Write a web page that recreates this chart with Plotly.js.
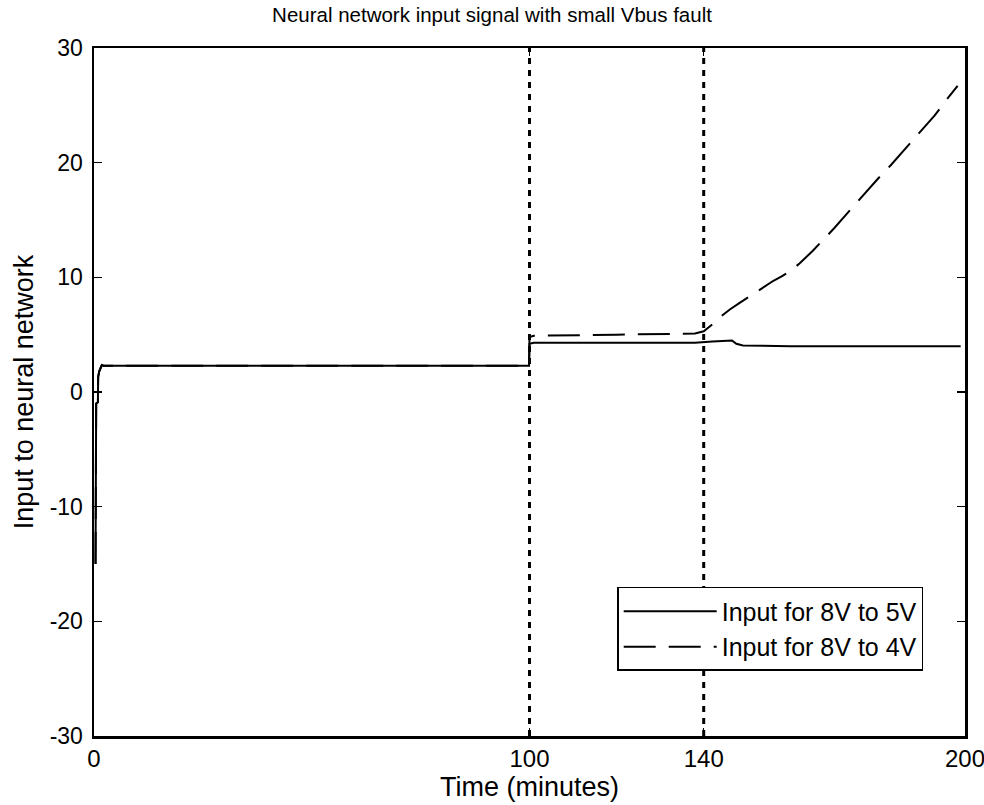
<!DOCTYPE html>
<html>
<head>
<meta charset="utf-8">
<script src="https://cdn.plot.ly/plotly-3.0.1.min.js"></script>
<style>html,body{margin:0;padding:0;background:#fff;}#chart{width:984px;height:805px;}</style>
</head>
<body>
<div id="chart"></div>
<script>
// Input for 8V to 5V (solid)
const t5 = [0.35, 0.5, 0.9, 0.95, 1.2, 1.8, 2.2, 30, 60, 99.9, 100, 101, 120, 138, 142, 145, 146.5, 147.5, 149, 160, 180, 199];
const v5 = [-15, -1.0, -0.9, 1.3, 1.8, 2.35, 2.3, 2.3, 2.28, 2.3, 4.2, 4.3, 4.3, 4.3, 4.4, 4.45, 4.5, 4.2, 4.05, 4.0, 4.0, 4.0];
// Input for 8V to 4V (dashed)
const t4 = [0.35, 0.5, 0.9, 0.95, 1.2, 1.8, 2.2, 30, 60, 99.9, 100, 101, 120, 138, 140, 142, 144, 146, 148, 150, 153, 156, 158, 160, 162, 165, 168, 170, 173, 176, 180, 183, 186, 190, 193, 196, 198.3];
const v4 = [-15, -1.0, -0.9, 1.3, 1.8, 2.35, 2.3, 2.3, 2.28, 2.3, 4.8, 4.9, 5.0, 5.1, 5.3, 5.9, 6.6, 7.2, 7.7, 8.2, 9.0, 9.7, 10.1, 10.6, 11.2, 12.3, 13.5, 14.3, 15.6, 16.9, 18.6, 19.8, 21.1, 22.8, 24.1, 25.6, 26.7];
// Fault markers (vertical dotted lines)
const faultTimes = [100, 140];
const seriesNames = ["Input for 8V to 5V", "Input for 8V to 4V"];
const xTicks = [0, 100, 140, 200];
const yTicks = [-30, -20, -10, 0, 10, 20, 30];

const FONT = "Liberation Sans, Arial, sans-serif";

const traces = [
  {x: t5, y: v5, name: seriesNames[0], mode: "lines", line: {color: "#000", width: 2}},
  {x: t4, y: v4, name: seriesNames[1], mode: "lines", line: {color: "#000", width: 2, dash: "32px,13px"}}
];

const shapes = faultTimes.map(ft => ({
  type: "line", xref: "x", yref: "paper", x0: ft, x1: ft, y0: 0, y1: 1,
  line: {color: "#000", width: 3, dash: "6px,6px"}
}));

const layout = {
  width: 984, height: 805,
  margin: {l: 94, r: 19, t: 48, b: 69},
  paper_bgcolor: "#fff", plot_bgcolor: "#fff",
  font: {family: FONT, size: 24, color: "#000"},
  title: {text: "Neural network input signal with small Vbus fault", font: {family: FONT, size: 20.5, color: "#000"}, x: 0.5, xanchor: "center", y: 0.99, yanchor: "top"},
  xaxis: {
    range: [0, 200], tickvals: xTicks, ticktext: xTicks.map(String), ticklabeloverflow: "allow",
    showgrid: false, zeroline: false, showline: true, linecolor: "#000", linewidth: 2.5, mirror: "ticks",
    ticks: "inside", ticklen: 8, tickwidth: 1.5, tickcolor: "#000",
    tickfont: {family: FONT, size: 24},
    title: {text: "Time (minutes)", font: {family: FONT, size: 27}, standoff: 2}
  },
  yaxis: {
    range: [-30, 30], tickvals: yTicks, ticktext: yTicks.map(String), ticklabelstandoff: 4,
    showgrid: false, zeroline: false, showline: true, linecolor: "#000", linewidth: 2.5, mirror: "ticks",
    ticks: "inside", ticklen: 8, tickwidth: 1.5, tickcolor: "#000",
    tickfont: {family: FONT, size: 23},
    title: {text: "Input to neural network", font: {family: FONT, size: 27}, standoff: 8}
  },
  shapes: shapes,
  showlegend: true,
  legend: {
    x: 0.952, y: 0.0945, xanchor: "right", yanchor: "bottom",
    bgcolor: "#fff", bordercolor: "#000", borderwidth: 1.5,
    font: {family: FONT, size: 25, color: "#000"},
    itemwidth: 93, tracegroupgap: 0
  }
};

Plotly.newPlot("chart", traces, layout, {displayModeBar: false, staticPlot: true});
</script>
</body>
</html>
